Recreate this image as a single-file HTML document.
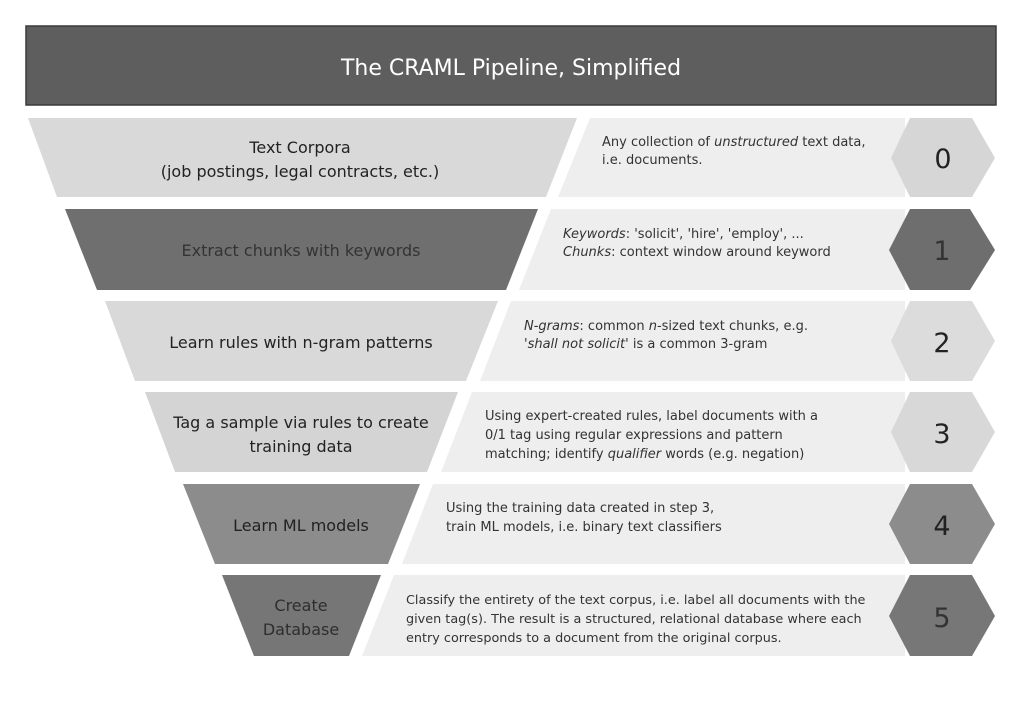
<!DOCTYPE html>
<html><head><meta charset="utf-8"><style>
body{margin:0;background:#fff;}
svg{display:block;font-family:"DejaVu Sans","Liberation Sans",sans-serif;}
</style></head><body>
<svg width="1022" height="722" viewBox="0 0 1022 722" xmlns="http://www.w3.org/2000/svg">
<rect width="1022" height="722" fill="#fff"/>
<rect x="26" y="26" width="970" height="79" fill="#5f5e5e" stroke="#3a3a3a" stroke-width="1.5"/>
<text x="511" y="75" text-anchor="middle" fill="#fff" font-size="22">The CRAML Pipeline, Simplified</text>

<!-- row 0 -->
<polygon points="590,118 905,118 905,197 558,197" fill="#eeeeee"/>
<polygon points="28,118 577,118 546,197 57,197" fill="#d9d9d9"/>
<polygon points="910,118 972,118 995,158 972,197 910,197 891,158" fill="#d6d6d6"/>
<text x="300" y="153" text-anchor="middle" font-size="16" fill="#222">Text Corpora</text>
<text x="300" y="177" text-anchor="middle" font-size="16" fill="#222">(job postings, legal contracts, etc.)</text>
<text x="602" y="146" font-size="13" fill="#333">Any collection of <tspan font-style="italic">unstructured</tspan> text data,</text>
<text x="602" y="164" font-size="13" fill="#333">i.e. documents.</text>
<text x="943" y="168" text-anchor="middle" font-size="27" fill="#222">0</text>

<!-- row 1 -->
<polygon points="551,209 905,209 905,290 519,290" fill="#eeeeee"/>
<polygon points="65,209 538,209 506,290 97,290" fill="#6f6f6f"/>
<polygon points="910,209 970,209 995,250 970,290 910,290 889,250" fill="#6e6e6e"/>
<text x="301" y="256" text-anchor="middle" font-size="16" fill="#333">Extract chunks with keywords</text>
<text x="563" y="238" font-size="13" fill="#333"><tspan font-style="italic">Keywords</tspan>: 'solicit', 'hire', 'employ', ...</text>
<text x="563" y="256" font-size="13" fill="#333"><tspan font-style="italic">Chunks</tspan>: context window around keyword</text>
<text x="942" y="260" text-anchor="middle" font-size="27" fill="#333">1</text>

<!-- row 2 -->
<polygon points="511,301 905,301 905,381 480,381" fill="#eeeeee"/>
<polygon points="105,301 498,301 466,381 135,381" fill="#d9d9d9"/>
<polygon points="910,301 972,301 995,341 972,381 910,381 891,341" fill="#dcdcdc"/>
<text x="301" y="348" text-anchor="middle" font-size="16" fill="#222">Learn rules with n-gram patterns</text>
<text x="524" y="330" font-size="13" fill="#333"><tspan font-style="italic">N-grams</tspan>: common <tspan font-style="italic">n</tspan>-sized text chunks, e.g.</text>
<text x="524" y="348" font-size="13" fill="#333">'<tspan font-style="italic">shall not solicit</tspan>' is a common 3-gram</text>
<text x="942" y="352" text-anchor="middle" font-size="27" fill="#222">2</text>

<!-- row 3 -->
<polygon points="472,392 905,392 905,472 441,472" fill="#eeeeee"/>
<polygon points="145,392 458,392 427,472 175,472" fill="#d4d4d4"/>
<polygon points="910,392 972,392 995,432 972,472 910,472 891,432" fill="#d8d8d8"/>
<text x="301" y="428" text-anchor="middle" font-size="16" fill="#222">Tag a sample via rules to create</text>
<text x="301" y="452" text-anchor="middle" font-size="16" fill="#222">training data</text>
<text x="485" y="420" font-size="13" fill="#333">Using expert-created rules, label documents with a</text>
<text x="485" y="439" font-size="13" fill="#333">0/1 tag using regular expressions and pattern</text>
<text x="485" y="458" font-size="13" fill="#333">matching; identify <tspan font-style="italic">qualifier</tspan> words (e.g. negation)</text>
<text x="942" y="443" text-anchor="middle" font-size="27" fill="#222">3</text>

<!-- row 4 -->
<polygon points="433,484 905,484 905,564 402,564" fill="#eeeeee"/>
<polygon points="183,484 420,484 388,564 215,564" fill="#8c8c8c"/>
<polygon points="910,484 972,484 995,524 972,564 910,564 889,524" fill="#8c8c8c"/>
<text x="301" y="531" text-anchor="middle" font-size="16" fill="#222">Learn ML models</text>
<text x="446" y="512" font-size="13" fill="#333">Using the training data created in step 3,</text>
<text x="446" y="531" font-size="13" fill="#333">train ML models, i.e. binary text classifiers</text>
<text x="942" y="535" text-anchor="middle" font-size="27" fill="#222">4</text>

<!-- row 5 -->
<polygon points="394,575 905,575 905,656 362,656" fill="#eeeeee"/>
<polygon points="222,575 381,575 349,656 254,656" fill="#767676"/>
<polygon points="910,575 972,575 995,616 972,656 910,656 889,616" fill="#777777"/>
<text x="301" y="611" text-anchor="middle" font-size="16" fill="#2e2e2e">Create</text>
<text x="301" y="635" text-anchor="middle" font-size="16" fill="#2e2e2e">Database</text>
<text x="406" y="604" font-size="12.8" fill="#333">Classify the entirety of the text corpus, i.e. label all documents with the</text>
<text x="406" y="623" font-size="12.8" fill="#333">given tag(s). The result is a structured, relational database where each</text>
<text x="406" y="642" font-size="12.8" fill="#333">entry corresponds to a document from the original corpus.</text>
<text x="942" y="627" text-anchor="middle" font-size="27" fill="#333">5</text>
</svg>
</body></html>
